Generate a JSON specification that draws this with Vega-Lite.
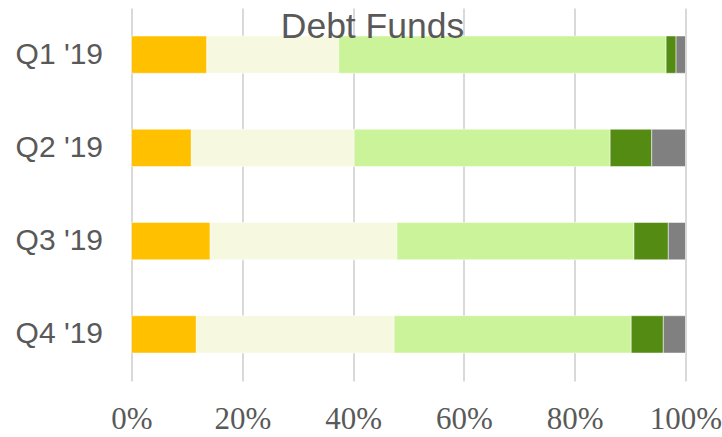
{
  "$schema": "https://vega.github.io/schema/vega-lite/v6.json",
  "autosize": "none",
  "width": 554,
  "height": 373,
  "padding": {"left": 131.5, "top": 8, "right": 36.5, "bottom": 56},
  "background": "white",
  "title": {
    "text": "Debt Funds",
    "fontSize": 35.5,
    "font": "Liberation Sans",
    "fontWeight": "normal",
    "color": "#595959",
    "anchor": "middle",
    "frame": "group",
    "dx": -36,
    "dy": 41
  },
  "data": {
    "values": [
      {"quarter": "Q1 '19", "segment": "S1", "ord": 1, "value": 13.6},
      {"quarter": "Q1 '19", "segment": "S2", "ord": 2, "value": 23.8},
      {"quarter": "Q1 '19", "segment": "S3", "ord": 3, "value": 59.1},
      {"quarter": "Q1 '19", "segment": "S4", "ord": 4, "value": 1.8},
      {"quarter": "Q1 '19", "segment": "S5", "ord": 5, "value": 1.7},
      {"quarter": "Q2 '19", "segment": "S1", "ord": 1, "value": 10.8},
      {"quarter": "Q2 '19", "segment": "S2", "ord": 2, "value": 29.4},
      {"quarter": "Q2 '19", "segment": "S3", "ord": 3, "value": 46.2},
      {"quarter": "Q2 '19", "segment": "S4", "ord": 4, "value": 7.5},
      {"quarter": "Q2 '19", "segment": "S5", "ord": 5, "value": 6.1},
      {"quarter": "Q3 '19", "segment": "S1", "ord": 1, "value": 14.2},
      {"quarter": "Q3 '19", "segment": "S2", "ord": 2, "value": 33.7},
      {"quarter": "Q3 '19", "segment": "S3", "ord": 3, "value": 42.8},
      {"quarter": "Q3 '19", "segment": "S4", "ord": 4, "value": 6.2},
      {"quarter": "Q3 '19", "segment": "S5", "ord": 5, "value": 3.1},
      {"quarter": "Q4 '19", "segment": "S1", "ord": 1, "value": 11.7},
      {"quarter": "Q4 '19", "segment": "S2", "ord": 2, "value": 35.7},
      {"quarter": "Q4 '19", "segment": "S3", "ord": 3, "value": 42.8},
      {"quarter": "Q4 '19", "segment": "S4", "ord": 4, "value": 5.8},
      {"quarter": "Q4 '19", "segment": "S5", "ord": 5, "value": 4.0}
    ]
  },
  "mark": {"type": "bar", "stroke": "white", "strokeWidth": 0.5},
  "encoding": {
    "y": {
      "field": "quarter",
      "type": "nominal",
      "sort": ["Q1 '19", "Q2 '19", "Q3 '19", "Q4 '19"],
      "scale": {"paddingInner": 0.6, "paddingOuter": 0.3},
      "axis": {
        "title": null,
        "domain": false,
        "ticks": false,
        "grid": false,
        "labelFont": "Liberation Sans",
        "labelFontSize": 30,
        "labelColor": "#595959",
        "labelPadding": 29
      }
    },
    "x": {
      "field": "value",
      "type": "quantitative",
      "stack": "normalize",
      "scale": {"domain": [0, 1], "nice": false},
      "axis": {
        "title": null,
        "values": [0, 0.2, 0.4, 0.6, 0.8, 1],
        "format": ".0%",
        "domain": false,
        "ticks": false,
        "grid": true,
        "gridColor": "#d9d9d9",
        "gridWidth": 2,
        "labelFont": "Liberation Sans Narrow",
        "labelFontSize": 31,
        "labelColor": "#595959",
        "labelPadding": 23,
        "labelFlush": false
      }
    },
    "color": {
      "field": "segment",
      "type": "nominal",
      "scale": {
        "domain": ["S1", "S2", "S3", "S4", "S5"],
        "range": ["#FFC000", "#F6F9DF", "#CBF39A", "#548B12", "#808080"]
      },
      "legend": null
    },
    "order": {"field": "ord", "type": "quantitative"}
  },
  "config": {"view": {"stroke": null}}
}
